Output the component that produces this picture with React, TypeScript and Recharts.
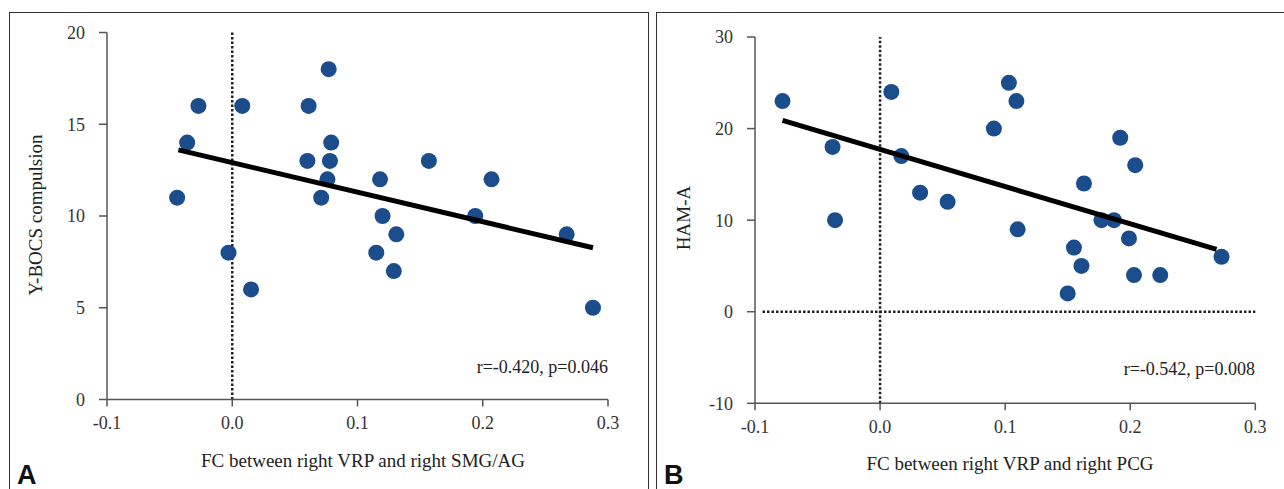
import React from 'react';
import { ScatterChart, Scatter, XAxis, YAxis, ReferenceLine } from 'recharts';

// Panel A: FC right VRP – right SMG/AG vs Y-BOCS compulsion
const fcSmgAg = [
  -0.044, -0.036, -0.027, -0.003, 0.008, 0.015, 0.061, 0.06, 0.077, 0.079, 0.078, 0.076,
  0.071, 0.118, 0.12, 0.115, 0.131, 0.129, 0.157, 0.207, 0.194, 0.267, 0.288,
];
const ybocs = [11, 14, 16, 8, 16, 6, 16, 13, 18, 14, 13, 12, 11, 12, 10, 8, 9, 7, 13, 12, 10, 9, 5];
const fitAx = [-0.043, 0.288];
const fitAy = [13.6, 8.27];

// Panel B: FC right VRP – right PCG vs HAM-A
const fcPcg = [
  -0.078, -0.038, -0.036, 0.009, 0.017, 0.032, 0.054, 0.103, 0.109, 0.091, 0.192, 0.204,
  0.163, 0.177, 0.187, 0.11, 0.199, 0.155, 0.161, 0.203, 0.224, 0.15, 0.273,
];
const hama = [23, 18, 10, 24, 17, 13, 12, 25, 23, 20, 19, 16, 14, 10, 10, 9, 8, 7, 5, 4, 4, 2, 6];
const fitBx = [-0.078, 0.269];
const fitBy = [20.9, 6.8];

const xTicks = [-0.1, 0, 0.1, 0.2, 0.3];
const yTicksA = [0, 5, 10, 15, 20];
const yTicksB = [-10, 0, 10, 20, 30];

const SERIF = '"Liberation Serif", "Times New Roman", serif';
const SANS = '"Liberation Sans", Arial, sans-serif';
const DOT = '#1b4d8c';
const AXIS = '#555';

const zip = (xs: number[], ys: number[]) => xs.map((x, i) => ({ x, y: ys[i] }));

const dot = (props: any) => <circle cx={props.cx} cy={props.cy} r={8} fill={DOT} />;
const none = () => <g />;

const tickStyle = { fill: '#333', fontSize: 18, fontFamily: SERIF };
const dotted = { stroke: '#222', strokeWidth: 2.5, strokeDasharray: '2.5 2' };

function Panel(props: {
  pts: { x: number; y: number }[];
  fit: { x: number; y: number }[];
  yDomain: [number, number];
  yTicks: number[];
  width: number;
  margin: { top: number; right: number; bottom: number; left: number };
  zeroLine?: boolean;
}) {
  const { pts, fit, yDomain, yTicks, width, margin, zeroLine } = props;
  return (
    <ScatterChart width={width} height={489} margin={margin}>
      <XAxis
        type="number"
        dataKey="x"
        domain={[-0.1, 0.3]}
        ticks={xTicks}
        tickFormatter={(v: number) => v.toFixed(1)}
        tick={tickStyle}
        tickSize={7}
        tickMargin={10}
        height={30}
        axisLine={{ stroke: AXIS, strokeWidth: 1.5 }}
        tickLine={{ stroke: AXIS, strokeWidth: 1.5 }}
      />
      <YAxis
        type="number"
        dataKey="y"
        domain={yDomain}
        ticks={yTicks}
        tick={tickStyle}
        tickSize={8}
        tickMargin={14}
        width={60}
        axisLine={{ stroke: AXIS, strokeWidth: 1.5 }}
        tickLine={{ stroke: AXIS, strokeWidth: 1.5 }}
      />
      <ReferenceLine x={0} {...dotted} />
      {zeroLine && (
        <ReferenceLine segment={[{ x: -0.094, y: 0 }, { x: 0.3, y: 0 }]} {...dotted} />
      )}
      <Scatter data={pts} shape={dot} isAnimationActive={false} />
      <Scatter
        data={fit}
        shape={none}
        line={{ stroke: '#000', strokeWidth: 5 }}
        isAnimationActive={false}
      />
    </ScatterChart>
  );
}

export default function App() {
  return (
    <div
      style={{
        position: 'absolute',
        left: 0,
        top: 0,
        width: 1284,
        height: 489,
        background: '#fff',
        overflow: 'hidden',
      }}
    >
      <div style={{ position: 'absolute', left: 9, top: 12, width: 638, height: 500, border: '1.5px solid #333' }} />
      <div style={{ position: 'absolute', left: 656, top: 12, width: 660, height: 500, border: '1.5px solid #333' }} />

      <div style={{ position: 'absolute', left: 0, top: 0 }}>
        <Panel
          pts={zip(fcSmgAg, ybocs)}
          fit={zip(fitAx, fitAy)}
          yDomain={[0, 20]}
          yTicks={yTicksA}
          width={648}
          margin={{ top: 32.5, right: 40, bottom: 59.5, left: 47 }}
        />
      </div>
      <div style={{ position: 'absolute', left: 648, top: 0 }}>
        <Panel
          pts={zip(fcPcg, hama)}
          fit={zip(fitBx, fitBy)}
          yDomain={[-10, 30]}
          yTicks={yTicksB}
          width={636}
          margin={{ top: 37, right: 28.7, bottom: 55.7, left: 47 }}
          zeroLine
        />
      </div>

      <svg width={1284} height={489} style={{ position: 'absolute', left: 0, top: 0, pointerEvents: 'none' }}>
        <g fontFamily={SERIF} fontSize={19} fill="#222">
          <text x={35} y={215} transform="rotate(-90 35 215)" textAnchor="middle" dominantBaseline="central">
            Y-BOCS compulsion
          </text>
          <text x={363} y={460} textAnchor="middle" dominantBaseline="central">
            FC between right VRP and right SMG/AG
          </text>
          <text x={683} y={218} transform="rotate(-90 683 218)" textAnchor="middle" dominantBaseline="central">
            HAM-A
          </text>
          <text x={1010} y={463} textAnchor="middle" dominantBaseline="central">
            FC between right VRP and right PCG
          </text>
        </g>
        <g fontFamily={SERIF} fontSize={18} fill="#222">
          <text x={608} y={367} textAnchor="end" dominantBaseline="central">
            r=-0.420, p=0.046
          </text>
          <text x={1255} y={369} textAnchor="end" dominantBaseline="central">
            r=-0.542, p=0.008
          </text>
        </g>
        <g fontFamily={SANS} fontSize={27} fontWeight="bold" fill="#111">
          <text x={17} y={484}>A</text>
          <text x={664} y={484}>B</text>
        </g>
      </svg>
    </div>
  );
}
